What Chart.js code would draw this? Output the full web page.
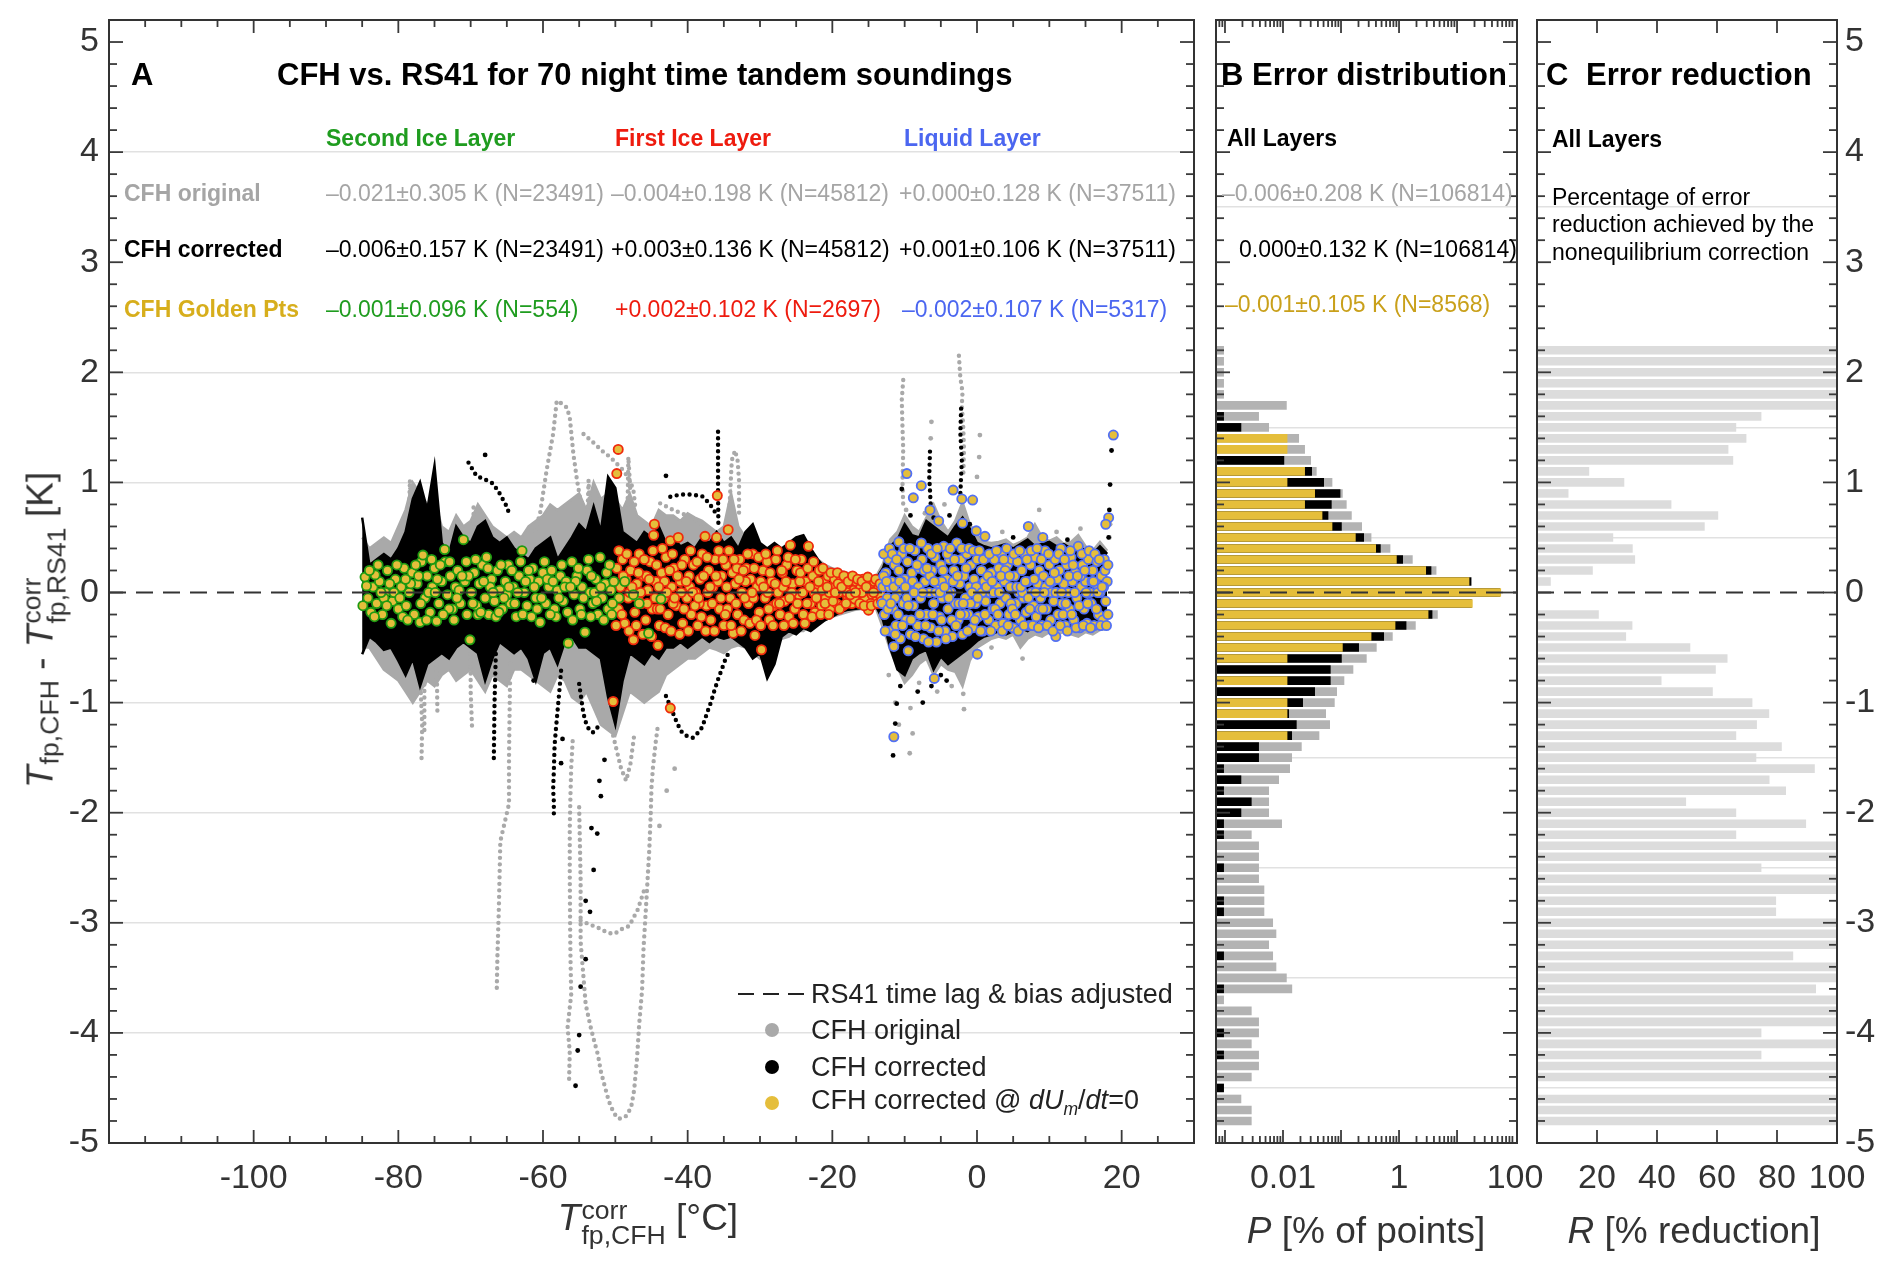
<!DOCTYPE html>
<html><head><meta charset="utf-8">
<script src="https://cdn.jsdelivr.net/npm/chart.js@4.4.1/dist/chart.umd.min.js"></script>
<style>
html,body{margin:0;padding:0;background:#fff;}
#wrap{position:relative;width:1892px;height:1270px;overflow:hidden;font-family:"Liberation Sans",Arial,Helvetica,sans-serif;}
canvas{position:absolute;left:0;top:0;}
.t{position:absolute;white-space:nowrap;line-height:1;transform:translateY(-50%);}
.b{font-weight:bold;}
.ax{position:absolute;white-space:nowrap;color:#333;font-size:37px;line-height:1;transform:translate(-50%,-50%);}
.ss{display:inline-flex;flex-direction:column;font-size:0.72em;line-height:0.92;vertical-align:0.45em;margin-left:1px;}
.sb{font-size:0.72em;vertical-align:-0.22em;margin-left:1px;}
</style></head><body><div id="wrap">
<canvas id="cA" width="1892" height="1270"></canvas>
<canvas id="cB" width="1892" height="1270"></canvas>
<canvas id="cC" width="1892" height="1270"></canvas>
</div>
<script>
// ================= DATA =================
// Panel A : envelope of the dense point clouds (1 degC steps)
const bandX = [-85,-84,-83,-82,-81,-80,-79,-78,-77,-76,
-75,-74,-73,-72,-71,-70,-69,-68,-67,-66,
-65,-64,-63,-62,-61,-60,-59,-58,-57,-56,
-55,-54,-53,-52,-51,-50,-49,-48,-47,-46,
-45,-44,-43,-42,-41,-40,-39,-38,-37,-36,
-35,-34,-33,-32,-31,-30,-29,-28,-27,-26,
-25,-24,-23,-22,-21,-20,-19,-18,-17,-16,
-15,-14,-13,-12,-11,-10,-9,-8,-7,-6,
-5,-4,-3,-2,-1,0,1,2,3,4,
5,6,7,8,9,10,11,12,13,14,
15,16,17,18];
const corrHi = [0.68,0.25,0.3,0.35,0.3,0.4,0.55,0.85,1.0,0.75,
1.15,0.45,0.35,0.6,0.5,0.45,0.6,0.65,0.5,0.45,
0.5,0.4,0.35,0.3,0.4,0.45,0.5,0.3,0.4,0.5,
0.62,0.55,0.78,0.55,1.05,0.95,0.55,0.5,0.45,0.55,
0.5,0.6,0.45,0.5,0.42,0.45,0.4,0.5,0.45,0.55,
0.45,0.5,0.4,0.55,0.62,0.45,0.4,0.45,0.4,0.45,
0.5,0.52,0.4,0.3,0.22,0.2,0.18,0.16,0.15,0.14,
0.12,0.12,0.22,0.42,0.48,0.62,0.52,0.5,0.65,0.6,
0.55,0.5,0.6,0.68,0.58,0.45,0.42,0.4,0.42,0.44,
0.4,0.44,0.48,0.42,0.44,0.46,0.42,0.44,0.4,0.42,
0.38,0.35,0.42,0.35];
const corrLo = [-0.56,-0.4,-0.45,-0.52,-0.5,-0.62,-0.75,-0.6,-0.85,-0.65,
-0.6,-0.55,-0.6,-0.5,-0.45,-0.5,-0.55,-0.8,-0.6,-0.45,
-0.5,-0.55,-0.5,-0.6,-0.8,-0.55,-0.5,-0.65,-0.45,-0.4,
-0.5,-0.5,-0.55,-0.6,-0.95,-1.2,-0.8,-0.55,-0.6,-0.65,
-0.55,-0.6,-0.5,-0.5,-0.45,-0.5,-0.45,-0.4,-0.45,-0.4,
-0.42,-0.4,-0.45,-0.5,-0.6,-0.55,-0.78,-0.65,-0.4,-0.35,
-0.38,-0.32,-0.35,-0.3,-0.25,-0.22,-0.18,-0.16,-0.15,-0.14,
-0.13,-0.12,-0.25,-0.5,-0.7,-0.75,-0.6,-0.55,-0.52,-0.7,
-0.58,-0.65,-0.6,-0.55,-0.5,-0.44,-0.4,-0.38,-0.35,-0.38,
-0.35,-0.32,-0.35,-0.3,-0.32,-0.3,-0.33,-0.3,-0.32,-0.35,
-0.3,-0.32,-0.3,-0.3];
const origHi = [0.5,0.4,0.45,0.5,0.45,0.6,0.75,1.0,0.9,0.8,
0.85,0.6,0.55,0.7,0.6,0.65,0.8,0.7,0.6,0.55,
0.5,0.55,0.5,0.6,0.65,0.7,0.8,0.75,0.8,0.85,
0.9,0.75,1.0,0.85,0.9,0.85,0.75,0.9,0.7,0.65,
0.6,0.75,0.7,0.7,0.65,0.72,0.68,0.65,0.6,0.55,
0.6,0.9,0.6,0.5,0.5,0.42,0.4,0.42,0.38,0.42,
0.45,0.4,0.35,0.3,0.25,0.22,0.2,0.18,0.16,0.15,
0.14,0.14,0.26,0.48,0.55,0.7,0.6,0.55,0.68,0.8,
0.65,0.55,0.65,0.82,0.62,0.52,0.46,0.45,0.46,0.48,
0.43,0.46,0.5,0.62,0.5,0.47,0.5,0.44,0.46,0.52,
0.42,0.38,0.46,0.38];
const origLo = [-0.5,-0.5,-0.6,-0.7,-0.75,-0.8,-0.9,-1.0,-0.9,-0.8,
-0.85,-0.75,-0.7,-0.8,-0.75,-0.7,-0.8,-0.9,-0.75,-0.8,
-0.85,-0.7,-0.7,-0.75,-0.8,-0.85,-0.9,-0.75,-0.8,-0.95,
-1.0,-0.9,-1.05,-1.2,-1.25,-1.3,-1.1,-0.9,-0.95,-1.0,
-0.95,-0.9,-0.75,-0.7,-0.65,-0.6,-0.6,-0.55,-0.5,-0.52,
-0.55,-0.5,-0.48,-0.5,-0.55,-0.6,-0.55,-0.5,-0.42,-0.4,
-0.35,-0.35,-0.3,-0.28,-0.25,-0.22,-0.2,-0.18,-0.16,-0.15,
-0.14,-0.14,-0.32,-0.52,-0.68,-0.82,-0.75,-0.65,-0.6,-0.75,
-0.65,-0.7,-0.72,-0.85,-0.62,-0.5,-0.46,-0.42,-0.4,-0.42,
-0.38,-0.5,-0.42,-0.38,-0.4,-0.36,-0.38,-0.36,-0.38,-0.4,
-0.36,-0.38,-0.34,-0.33];

// Panel A : single soundings that leave the cloud (dotted traces)
const grayTraces = [
 [[-61.1,0.56],[-60.4,0.72],[-59.5,1.11],[-58.6,1.44],[-58.1,1.74],[-57.5,1.72],[-56.7,1.68],[-56.3,1.59],[-55.8,1.26],[-55.3,1.02],[-54.9,0.87]],
 [[-54.4,1.44],[-53.0,1.36],[-51.7,1.28],[-50.7,1.23],[-49.8,1.17],[-48.9,1.11],[-48.0,1.02],[-47.5,0.93],[-47.2,0.75]],
 [[-53.9,0.6],[-53.7,1.02],[-53.5,0.7]],
 [[-48.3,0.8],[-48.2,1.23],[-47.9,0.9]],
 [[-34.2,0.8],[-33.9,1.2],[-33.45,1.29],[-33.1,1.2],[-32.9,1.02],[-32.9,0.72]],
 [[-78.6,0.5],[-78.4,1.02],[-78.2,0.6]],
 [[-69.6,0.3],[-69.6,0.8]],
 [[-43.8,0.81],[-42.0,0.75],[-39.7,0.69],[-37.4,0.59],[-36.0,0.5]],
 [[-76.8,-0.5],[-76.9,-0.9],[-76.7,-1.2],[-76.8,-1.53]],
 [[-76.4,-0.6],[-76.4,-1.3]],
 [[-74.7,-0.6],[-74.6,-1.08]],
 [[-70.0,-0.5],[-70.0,-0.9],[-69.8,-1.24]],
 [[-64.5,-0.53],[-64.6,-1.0],[-64.7,-1.5],[-64.7,-1.92],[-65.9,-2.26],[-66.1,-2.86],[-66.3,-3.3],[-66.4,-3.64]],
 [[-55.9,-1.35],[-56.1,-1.59],[-56.2,-1.83],[-56.3,-2.14],[-56.3,-2.56],[-56.25,-3.02],[-56.2,-3.32],[-56.1,-3.65],[-56.6,-3.95],[-56.3,-4.17],[-56.4,-4.45]],
 [[-55.0,-1.95],[-54.8,-2.6],[-54.8,-3.17],[-54.1,-3.74],[-53.4,-3.95],[-52.9,-4.08],[-52.4,-4.2],[-52.0,-4.35],[-51.4,-4.5],[-50.9,-4.62],[-50.2,-4.73],[-49.5,-4.78],[-48.9,-4.77],[-48.4,-4.75],[-47.8,-4.67],[-47.4,-4.52],[-47.0,-4.23],[-46.7,-3.92],[-46.3,-3.61],[-46.1,-3.23],[-45.7,-2.79],[-45.3,-2.33],[-45.1,-2.0],[-45.0,-1.77],[-44.8,-1.59],[-44.4,-1.35],[-44.1,-1.2]],
 [[-54.8,-2.98],[-54.1,-3.0],[-52.2,-3.05],[-51.1,-3.09],[-50.1,-3.1],[-49.2,-3.06],[-48.1,-3.03],[-46.9,-2.88],[-46.0,-2.7]],
 [[-50.3,-1.3],[-49.2,-1.6],[-48.5,-1.71],[-47.9,-1.55],[-47.4,-1.3]],
 [[-10.2,1.93],[-10.4,1.75],[-10.3,1.5],[-10.2,1.3],[-10.3,1.0],[-10.2,0.8]],
 [[-2.5,2.15],[-2.3,1.95],[-2.0,1.82],[-2.1,1.7],[-1.9,1.5],[-1.8,1.3],[-1.9,1.05]]
];
const blackTraces = [
 [[-57.5,-0.71],[-57.8,-0.94],[-58.2,-1.23],[-58.4,-1.39],[-58.5,-1.62],[-58.6,-1.79],[-58.5,-1.9],[-58.5,-2.02]],
 [[-43.0,-0.94],[-41.5,-1.18],[-40.9,-1.26],[-40.2,-1.3],[-39.3,-1.32],[-38.2,-1.25],[-37.7,-1.17],[-37.3,-1.09],[-36.8,-1.0],[-36.3,-0.89],[-35.8,-0.79],[-35.3,-0.7],[-34.8,-0.61],[-34.2,-0.53]],
 [[-55.0,-0.83],[-54.5,-1.06],[-54.2,-1.16],[-53.6,-1.25],[-53.1,-1.27],[-52.5,-1.23],[-52.2,-1.18]],
 [[-66.5,-0.5],[-66.7,-1.0],[-66.8,-1.52]],
 [[-42.4,0.87],[-41.0,0.89],[-39.5,0.89],[-38.0,0.875],[-37.0,0.81],[-36.1,0.72]],
 [[-70.3,1.18],[-69.2,1.06],[-67.8,1.02],[-66.9,0.99],[-66.0,0.9],[-65.0,0.78],[-64.6,0.7]],
 [[-35.8,1.46],[-35.8,1.2],[-35.8,0.9],[-35.75,0.6]],
 [[-2.2,1.67],[-2.3,1.45],[-2.1,1.2],[-2.3,0.9]],
 [[-6.5,1.28],[-6.6,1.05],[-6.4,0.8]]
];
const grayPts = [[-6.3,1.55],[-6.4,1.4],[0.4,1.43],[0.3,1.23],[0.0,1.05],[8.6,0.75],[14.3,0.58],[-9.3,-1.46],[-8.9,-1.28],
 [-9.2,-1.05],[-1.8,-1.06],[-1.9,-0.92],[6.3,-0.6],[-11.3,-1.0],[-10.8,-1.2],[18.4,0.62],[18.3,0.5],[-41.8,-1.6],[-42.9,-1.8],[-43.9,-2.12],
 [-9.8,0.75],[-7.2,0.72],[-4.5,0.8],[-3.5,-0.85],[-5.5,-0.9],[-8.0,-0.82],[3.5,0.55],[11.0,0.55],[-12.2,-0.75],[2.0,-0.5]];
const blackPts = [[-10.4,0.94],[-11.1,-1.01],[-11.3,-1.19],[-11.6,-1.48],[18.6,1.29],[18.4,0.98],[18.3,0.75],[18.2,0.5],[-8.2,-0.9],[-7.5,-1.0],
 [-43.0,1.06],[-68.0,1.25],[-52.2,-1.71],[-52.0,-1.85],[-53.3,-2.14],[-52.5,-2.19],[-53.0,-2.52],[-54.1,-2.8],[-53.5,-2.9],[-54.1,-3.33],
 [-54.8,-3.58],[-55.0,-4.02],[-55.2,-4.16],[-55.5,-4.48],[-51.5,-1.52],[-57.3,-1.33],[-57.5,-1.55],[-61.25,-0.62],[-61.3,-0.8],
 [-9.2,0.7],[-6.0,0.68],[-3.8,0.7],[-1.0,0.62],[-5.0,-0.75],[-4.2,-0.8],[-6.3,-0.85],[-10.6,-0.85],[5.0,0.5],[12.5,0.48]];

// Panel A : "golden points" (dU/dt = 0), one list per layer
const greenPts = [[-84.6,0.14],[-84.2,-0.05],[-83.8,-0.18],[-83.5,0.05],[-83.0,-0.1],[-82.6,0.1],[-82.2,-0.2],[-81.8,0.0],[-81.5,0.2],[-81.0,-0.28],
 [-80.8,-0.08],[-80.4,0.12],[-80.0,-0.15],[-79.6,0.05],[-79.2,0.22],[-78.9,-0.12],[-78.5,0.0],[-78.1,0.18],[-77.8,-0.2],[-77.4,0.08],
 [-77.0,-0.27],[-76.8,0.28],[-76.6,0.34],[-76.3,-0.05],[-76.0,0.15],[-75.6,-0.18],[-75.3,0.05],[-75.0,0.22],[-74.7,-0.26],[-74.4,-0.1],
 [-74.0,0.1],[-73.6,0.39],[-73.5,0.28],[-73.2,-0.02],[-72.8,0.15],[-72.5,-0.15],[-72.1,0.05],[-71.8,0.2],[-71.4,-0.1],[-71.0,0.48],
 [-70.8,0.1],[-70.5,-0.2],[-70.1,-0.43],[-69.9,0.0],[-69.5,0.18],[-69.2,-0.12],[-68.8,0.08],[-68.4,0.25],[-68.0,-0.05],[-67.8,0.32],
 [-67.5,-0.2],[-67.1,0.12],[-66.7,-0.08],[-66.3,0.2],[-66.0,0.02],[-65.6,-0.15],[-65.2,0.1],[-64.8,0.25],[-64.5,-0.1],[-64.1,0.05],
 [-63.7,-0.22],[-63.3,0.15],[-62.9,0.38],[-62.6,0.0],[-62.2,-0.12],[-61.8,0.12],[-61.4,0.22],[-61.0,-0.05],[-60.6,0.1],[-60.4,-0.27],
 [-60.0,0.18],[-59.6,-0.1],[-59.2,0.05],[-58.8,0.2],[-58.4,-0.15],[-58.0,0.02],[-57.6,0.15],[-57.2,-0.08],[-56.8,0.1],[-56.5,-0.46],
 [-56.0,0.28],[-55.7,-0.02],[-55.3,0.15],[-54.9,-0.15],[-54.6,0.05],[-54.2,-0.36],[-53.9,0.2],[-53.5,0.0],[-53.1,-0.1],[-52.7,0.12],
 [-52.1,0.32],[-51.8,-0.05],[-51.4,0.08],[-51.0,-0.15],[-50.6,0.02],[-50.2,0.1],[-49.5,-0.05],[-48.7,0.1],[-47.5,-0.02],[-46.7,-0.1],
 [-45.4,-0.37],[-43.7,-0.06],[-84.4,0.06],[-83.2,0.16],[-82.0,-0.05],[-80.6,0.0],[-79.4,-0.22],[-78.3,0.08],[-77.2,0.15],[-75.8,0.0],
 [-74.6,0.12],[-73.0,-0.15],[-71.6,0.02],[-70.3,0.15],[-69.0,-0.2],[-67.3,0.05],[-66.5,-0.22],[-65.0,-0.02],[-63.5,0.0],[-62.0,0.2],
 [-60.8,-0.15],[-59.4,0.12],[-58.2,-0.22],[-57.0,0.05],[-55.5,0.1],[-54.4,-0.05],[-53.3,0.15],[-52.4,-0.2],[-51.2,0.18],[-50.4,-0.1],
 [-84.9,-0.12],[-84.0,0.2],[-83.3,-0.22],[-82.8,0.25],[-82.4,0.0],[-81.6,-0.12],[-81.2,0.08],[-80.2,0.25],[-79.8,-0.05],[-79.0,0.12],
 [-78.7,-0.25],[-77.6,0.25],[-76.9,-0.1],[-76.1,-0.25],[-75.4,0.3],[-74.9,0.0],[-74.2,0.25],[-73.8,-0.2],[-72.9,0.28],[-72.3,-0.25],
 [-71.9,-0.05],[-71.2,0.15],[-70.6,0.28],[-69.7,-0.1],[-69.3,0.3],[-68.6,-0.18],[-68.2,0.1],[-67.6,0.22],[-66.9,0.0],[-66.1,-0.18],
 [-65.8,0.25],[-65.4,-0.05],[-64.7,0.05],[-64.3,0.2],[-63.9,-0.1],[-63.1,0.28],[-62.8,-0.2],[-62.4,0.1],[-61.6,-0.22],[-61.2,0.05],
 [-60.2,-0.05],[-59.8,0.28],[-59.0,-0.2],[-58.6,0.1],[-57.8,-0.05],[-57.4,0.25],[-56.6,-0.18],[-56.2,0.05],[-55.9,-0.25],[-55.1,0.22],
 [-54.7,-0.2],[-53.7,0.3],[-53.4,-0.22],[-52.9,0.0],[-52.6,-0.08],[-52.0,0.05],[-51.6,-0.25],[-50.8,0.25],[-50.5,-0.2]];
const redPts = [[-49.8,0.22],[-49.6,-0.15],[-49.3,0.05],[-49.0,0.3],[-48.7,-0.28],[-48.5,0.12],[-48.2,-0.05],[-47.9,0.2],[-47.5,-0.43],[-47.3,-0.18],
 [-47.0,0.08],[-46.7,0.35],[-46.4,-0.1],[-46.1,0.15],[-45.8,-0.25],[-45.5,0.02],[-45.2,0.28],[-44.9,-0.15],[-44.7,0.52],[-44.6,0.62],
 [-44.4,0.1],[-44.1,-0.48],[-43.9,-0.3],[-43.6,0.18],[-43.3,-0.05],[-43.0,0.32],[-42.7,-0.2],[-42.4,0.47],[-42.2,0.05],[-41.9,0.22],
 [-41.6,-0.12],[-41.3,0.5],[-41.0,0.1],[-40.7,-0.28],[-40.4,0.3],[-40.1,-0.05],[-39.8,0.15],[-39.5,-0.2],[-39.2,0.25],[-38.9,0.0],
 [-38.6,-0.3],[-38.3,0.12],[-38.0,0.35],[-37.6,0.51],[-37.4,-0.12],[-37.1,0.2],[-36.8,-0.25],[-36.5,0.05],[-36.2,0.3],[-36.0,0.5],
 [-35.9,0.88],[-35.6,-0.15],[-35.3,0.15],[-35.0,-0.3],[-34.7,0.25],[-34.4,0.57],[-34.1,-0.05],[-33.8,0.18],[-33.7,-0.37],[-33.4,0.08],
 [-33.1,-0.2],[-32.8,0.3],[-32.5,0.0],[-32.2,-0.25],[-31.9,0.22],[-31.6,-0.1],[-31.3,0.12],[-31.0,0.35],[-30.7,-0.39],[-30.4,0.05],
 [-30.1,-0.18],[-29.8,-0.52],[-29.6,0.2],[-29.3,-0.05],[-29.0,0.28],[-28.7,-0.25],[-28.4,0.1],[-28.1,-0.12],[-27.8,0.3],[-27.5,0.0],
 [-27.2,-0.2],[-26.9,0.18],[-26.6,-0.08],[-26.3,0.25],[-26.0,-0.22],[-25.8,0.43],[-25.5,0.08],[-25.2,-0.15],[-24.9,0.2],[-24.6,-0.02],
 [-24.3,0.3],[-24.0,-0.2],[-23.7,0.1],[-23.3,0.42],[-23.0,-0.1],[-22.7,0.15],[-22.4,-0.18],[-22.1,0.05],[-21.8,0.2],[-21.5,-0.12],
 [-21.2,0.1],[-20.9,-0.05],[-20.6,0.15],[-20.3,-0.15],[-20.0,0.05],[-19.7,0.12],[-19.4,-0.1],[-19.1,0.0],[-18.8,0.14],[-18.5,-0.12],
 [-18.2,0.06],[-17.9,-0.04],[-17.6,0.12],[-17.3,-0.1],[-17.0,0.02],[-16.7,0.1],[-16.4,-0.08],[-16.1,0.04],[-15.8,0.12],[-15.5,-0.06],
 [-15.0,-0.16],[-14.8,0.08],[-14.5,-0.02],[-14.2,0.1],[-13.9,-0.08],[-13.6,0.04],[-13.3,-0.03],
 [-49.4,-0.05],[-48.0,0.0],[-46.9,-0.05],[-45.7,0.15],[-44.2,-0.15],[-43.2,0.1],[-42.0,-0.1],[-40.9,0.0],[-39.7,0.05],[-38.4,-0.1],
 [-37.2,0.0],[-35.8,0.1],[-34.5,-0.15],[-33.2,0.22],[-32.0,0.1],[-30.9,-0.05],[-29.9,0.1],[-28.9,0.0],[-27.7,-0.1],[-26.8,0.05],
 [-25.6,0.0],[-24.5,0.1],[-23.5,-0.1],[-22.5,0.0],[-21.4,0.02],[-20.4,0.0],[-19.2,0.08],[-18.0,0.0],[-16.9,-0.06],[-15.9,0.0],
 [-14.7,-0.1],[-49.6,1.3],[-49.8,1.08],[-50.3,-0.99],[-42.4,-1.05],
 [-49.9,-0.3],[-49.5,0.38],[-49.1,-0.2],[-48.9,0.15],[-48.4,0.35],[-48.1,-0.35],[-47.7,0.05],[-47.4,0.28],[-47.1,-0.3],[-46.8,0.18],
 [-46.5,0.0],[-46.2,-0.38],[-46.0,0.3],[-45.6,-0.1],[-45.3,0.12],[-45.0,-0.4],[-44.8,0.38],[-44.5,-0.05],[-44.3,0.25],[-44.0,0.05],
 [-43.8,-0.15],[-43.5,0.4],[-43.1,-0.32],[-42.9,0.0],[-42.5,0.2],[-42.3,-0.35],[-42.1,0.35],[-41.8,-0.05],[-41.4,0.15],[-41.1,-0.38],
 [-40.8,0.25],[-40.5,-0.15],[-40.2,0.1],[-39.9,-0.35],[-39.6,0.38],[-39.3,0.0],[-39.0,-0.12],[-38.7,0.28],[-38.5,-0.05],[-38.1,-0.22],
 [-37.8,0.15],[-37.5,-0.35],[-37.3,0.32],[-36.9,0.05],[-36.6,-0.1],[-36.3,-0.35],[-36.1,0.15],[-35.7,0.38],[-35.4,-0.05],[-35.1,0.3],
 [-34.8,-0.2],[-34.6,0.05],[-34.3,0.38],[-34.0,-0.3],[-33.6,0.3],[-33.3,-0.1],[-32.9,0.12],[-32.6,-0.35],[-32.3,0.2],[-32.1,-0.05],
 [-31.7,0.35],[-31.4,-0.28],[-31.1,0.0],[-30.8,0.22],[-30.5,-0.25],[-30.2,0.32],[-29.9,-0.3],[-29.5,0.05],[-29.2,0.35],[-28.8,-0.15],
 [-28.6,0.18],[-28.2,-0.3],[-27.9,0.08],[-27.6,0.38],[-27.3,-0.1],[-27.0,0.2],[-26.7,-0.3],[-26.4,0.1],[-26.1,0.32],[-25.9,-0.05],
 [-25.4,-0.28],[-25.1,0.3],[-24.8,-0.1],[-24.4,0.18],[-24.1,0.0],[-23.8,-0.28],[-23.4,0.22],[-23.1,0.05],[-22.8,-0.22],[-22.6,0.28],
 [-22.2,-0.05],[-21.9,0.1],[-21.6,-0.2],[-21.3,0.22],[-21.0,-0.1],[-20.7,0.05],[-20.5,-0.2],[-20.2,0.18],[-19.9,-0.08],[-19.6,0.0],
 [-19.3,0.18],[-19.0,-0.15],[-18.7,0.05],[-18.4,0.15],[-18.1,-0.1],[-17.8,0.1],[-17.5,-0.02],[-17.2,0.15],[-16.8,0.0],[-16.5,0.12],
 [-16.2,-0.1],[-15.9,0.1],[-15.6,-0.12],[-15.3,0.05],[-15.1,0.14],[-14.6,-0.12],[-14.3,0.0],[-14.0,0.12],[-13.7,-0.1],[-13.4,0.08],[-13.2,-0.08]];
const bluePts = [[-13.0,0.05],[-12.8,-0.2],[-12.6,0.18],[-12.4,-0.05],[-12.2,0.3],[-12.0,-0.35],[-11.8,0.1],[-11.6,-0.15],[-11.4,0.25],[-11.2,-0.3],
 [-11.0,0.0],[-10.8,0.2],[-10.6,-0.42],[-10.4,0.35],[-10.2,-0.1],[-10.0,0.12],[-9.8,-0.25],[-9.6,0.28],[-9.4,0.0],[-9.2,-0.38],
 [-9.0,0.18],[-8.8,-0.12],[-8.6,0.38],[-8.4,0.05],[-8.2,-0.3],[-8.0,0.22],[-7.8,-0.05],[-7.6,0.3],[-7.4,-0.42],[-7.2,0.1],
 [-7.0,-0.2],[-6.8,0.4],[-6.6,0.0],[-6.4,-0.32],[-6.2,0.2],[-6.0,-0.1],[-5.8,0.32],[-5.6,-0.45],[-5.4,0.08],[-5.2,-0.22],
 [-5.0,0.25],[-4.8,-0.05],[-4.6,0.42],[-4.4,-0.35],[-4.2,0.12],[-4.0,-0.15],[-3.8,0.3],[-3.6,0.0],[-3.4,-0.4],[-3.2,0.2],
 [-3.0,-0.1],[-2.8,0.45],[-2.6,-0.25],[-2.4,0.08],[-2.2,0.3],[-2.0,-0.38],[-1.8,0.15],[-1.6,-0.05],[-1.4,0.35],[-1.2,-0.2],
 [-1.0,0.05],[-0.8,0.25],[-0.6,-0.32],[-0.4,0.12],[-0.2,-0.1],[0.0,0.3],[0.2,-0.22],[0.4,0.05],[0.6,0.2],[0.8,-0.35],
 [1.0,0.1],[1.2,-0.08],[1.4,0.32],[1.6,-0.25],[1.8,0.0],[2.0,0.18],[2.2,-0.15],[2.4,0.3],[2.6,-0.3],[2.8,0.05],
 [3.0,0.22],[3.2,-0.1],[3.4,0.35],[3.6,-0.28],[3.8,0.1],[4.0,-0.05],[4.2,0.25],[4.4,-0.2],[4.6,0.05],[4.8,0.3],
 [5.0,-0.32],[5.2,0.15],[5.4,-0.1],[5.6,0.28],[5.8,0.0],[6.0,-0.25],[6.2,0.2],[6.4,-0.05],[6.6,0.35],[6.8,-0.18],
 [7.0,0.1],[7.2,-0.3],[7.4,0.25],[7.6,0.0],[7.8,-0.12],[8.0,0.32],[8.2,-0.22],[8.4,0.08],[8.6,0.2],[8.8,-0.05],
 [9.0,-0.3],[9.2,0.15],[9.4,0.38],[9.6,-0.15],[9.8,0.02],[10.0,0.25],[10.2,-0.25],[10.4,0.1],[10.6,-0.08],[10.8,0.3],
 [11.0,0.0],[11.2,-0.2],[11.4,0.2],[11.6,0.4],[11.8,-0.1],[12.0,0.08],[12.2,-0.3],[12.4,0.25],[12.6,0.0],[12.8,-0.15],
 [13.0,0.32],[13.2,0.1],[13.4,-0.25],[13.6,0.18],[13.8,-0.05],[14.0,0.42],[14.2,-0.32],[14.4,0.05],[14.6,0.25],[14.8,-0.15],
 [15.0,0.1],[15.2,-0.28],[15.4,0.3],[15.6,0.0],[15.8,-0.1],[16.0,0.2],[16.2,-0.3],[16.4,0.08],[16.6,0.28],[16.8,-0.2],
 [17.0,0.0],[17.2,0.15],[17.4,-0.25],[17.6,0.3],[17.8,-0.08],[18.0,0.1],[18.1,-0.2],
 [-12.9,0.15],[-12.1,0.05],[-11.3,-0.05],[-10.5,0.1],[-9.7,-0.05],[-8.9,0.1],[-8.1,0.05],[-7.3,0.2],[-6.5,0.15],[-5.7,0.0],
 [-4.9,0.1],[-4.1,0.0],[-3.3,0.1],[-2.5,-0.1],[-1.7,-0.2],[-0.9,-0.1],[-0.1,0.05],[0.7,0.0],[1.5,0.15],[2.3,0.0],
 [3.1,0.0],[3.9,0.2],[4.7,-0.1],[5.5,0.05],[6.3,0.0],[7.1,-0.05],[7.9,0.12],[8.7,-0.15],[9.5,0.05],[10.3,0.0],
 [11.1,0.12],[11.9,-0.2],[12.7,0.15],[13.5,0.0],[14.3,0.15],[15.1,0.0],[15.9,0.1],[16.7,0.0],[17.5,0.05],
 [-9.7,1.08],[-7.7,0.97],[-8.8,0.86],[-3.3,0.93],[-2.1,0.85],[-0.6,0.84],[-6.5,0.75],[-5.3,0.65],[-2.0,0.63],[-0.1,0.56],
 [1.1,0.51],[7.1,0.6],[9.1,0.5],[18.85,1.43],[18.2,0.68],[17.8,0.62],[-10.8,0.46],[-11.5,-0.49],[-9.5,-0.53],[-5.9,-0.78],
 [0.05,-0.56],[10.9,-0.4],[-11.5,-1.31],
 [-13.1,-0.1],[-12.9,0.35],[-12.7,-0.35],[-12.5,0.1],[-12.3,-0.15],[-12.1,0.4],[-11.9,-0.1],[-11.7,0.35],[-11.5,0.05],[-11.3,-0.38],
 [-11.1,0.3],[-10.9,-0.2],[-10.7,0.1],[-10.3,-0.3],[-10.1,0.4],[-9.9,0.05],[-9.5,-0.12],[-9.3,0.4],[-9.1,-0.25],[-8.7,0.0],
 [-8.5,-0.4],[-8.3,0.25],[-7.9,-0.2],[-7.7,0.45],[-7.5,0.0],[-7.1,-0.3],[-6.9,0.22],[-6.7,-0.45],[-6.3,0.35],[-6.1,-0.2],
 [-5.9,0.1],[-5.5,0.4],[-5.3,-0.35],[-5.1,0.0],[-4.9,-0.25],[-4.7,0.2],[-4.5,0.05],[-4.3,-0.42],[-4.1,0.35],[-3.9,-0.05],
 [-3.7,0.4],[-3.5,-0.25],[-3.1,0.3],[-2.9,-0.3],[-2.7,0.15],[-2.3,-0.2],[-2.1,0.4],[-1.9,-0.1],[-1.5,0.22],[-1.3,-0.35],
 [-1.1,0.4],[-0.7,0.0],[-0.5,0.38],[-0.3,-0.25],[0.1,-0.05],[0.3,0.38],[0.5,-0.35],[0.9,0.3],[1.1,-0.2],[1.3,0.05],
 [1.7,0.35],[1.9,-0.35],[2.1,0.1],[2.5,-0.15],[2.7,0.38],[2.9,-0.2],[3.3,0.15],[3.5,-0.35],[3.7,0.3],[4.1,0.4],
 [4.3,-0.3],[4.5,0.15],[4.9,-0.15],[5.1,0.35],[5.3,-0.2],[5.7,-0.35],[5.9,0.38],[6.1,0.05],[6.5,-0.3],[6.7,0.1],
 [6.9,0.3],[7.3,-0.15],[7.5,0.38],[7.7,-0.3],[8.1,0.0],[8.3,0.4],[8.5,-0.32],[8.9,0.3],[9.1,-0.15],[9.3,0.0],
 [9.7,-0.3],[9.9,0.35],[10.1,0.1],[10.5,-0.35],[10.7,0.18],[10.9,0.0],[11.3,0.35],[11.5,-0.3],[11.7,0.0],[12.1,0.3],
 [12.3,-0.1],[12.5,-0.35],[12.9,0.38],[13.1,-0.2],[13.3,0.25],[13.7,-0.32],[13.9,0.15],[14.1,-0.12],[14.5,0.35],[14.7,-0.3],
 [14.9,0.2],[15.3,-0.1],[15.5,0.38],[15.7,-0.32],[16.1,0.1],[16.3,0.35],[16.5,-0.15],[16.9,0.3],[17.1,-0.3],[17.3,0.05],
 [17.7,0.2],[17.9,-0.3],[18.1,0.25]];

// Panels B and C : 0.1 K bins
const bins = [2.2,2.1,2.0,1.9,1.8,1.7,1.6,1.5,1.4,1.3,1.2,1.1,1.0,0.9,0.8,0.7,0.6,0.5,0.4,0.3,0.2,0.1,0.0,
 -0.1,-0.2,-0.3,-0.4,-0.5,-0.6,-0.7,-0.8,-0.9,-1.0,-1.1,-1.2,-1.3,-1.4,-1.5,-1.6,-1.7,-1.8,-1.9,-2.0,
 -2.1,-2.2,-2.3,-2.4,-2.5,-2.6,-2.7,-2.8,-2.9,-3.0,-3.1,-3.2,-3.3,-3.4,-3.5,-3.6,-3.7,-3.8,-3.9,-4.0,
 -4.1,-4.2,-4.3,-4.4,-4.5,-4.6,-4.7,-4.8];
const pOrig = [0.00096,0.00096,0.00096,0.00096,0.00096,0.0116,0.00385,0.00574,0.0189,0.0239,0.0304,0.038,0.0709,0.107,0.125,0.153,0.23,0.334,0.709,1.72,4.41,15,50,
 17,4.65,1.94,0.778,0.412,0.277,0.163,0.114,0.0853,0.0778,0.0551,0.0646,0.0423,0.021,0.0143,0.0132,0.00853,0.00574,0.00574,0.00574,
 0.0096,0.00288,0.00385,0.00385,0.00385,0.00385,0.00476,0.00476,0.00476,0.00673,0.00767,0.00574,0.00673,0.00767,0.0116,0.0144,0.00096,0.00288,0.00385,0.00385,
 0.00288,0.00385,0.00385,0.00288,null,0.00191,0.00288,0.00288];
const pCorr = [null,null,null,null,null,null,0.00096,0.00191,null,null,0.0105,0.0316,0.0509,0.0975,0.069,0.0605,0.103,0.249,0.483,1.17,3.61,17.7,55,
 18,3.76,1.34,0.551,0.204,0.103,0.0663,0.0663,0.0356,0.0221,0.0127,0.0172,0.0143,0.00385,0.00385,0.00096,0.00191,0.00096,0.00288,0.00191,
 0.00096,0.00096,null,null,0.00096,null,null,0.00096,0.00096,null,null,null,0.00096,null,null,0.00096,null,null,null,0.00096,
 null,0.00096,null,null,0.00096,null,null,null];
const pGold = [null,null,null,null,null,null,null,null,0.0119,0.0119,null,0.0239,0.0119,0.0356,0.0239,0.0477,0.0709,0.179,0.401,0.912,2.92,16.3,57.4,
 18.6,3.21,0.865,0.334,0.107,0.0119,null,0.0119,null,0.0119,0.0119,null,0.0119,null,null,null,null,null,null,null,
 null,null,null,null,null,null,null,null,null,null,null,null,null,null,null,null,null,null,null,null,
 null,null,null,null,null,null,null,null];
const rRed = [100,100,100,100,100,100,74.8,66.4,69.8,63.8,65.4,17.4,29.1,10.5,44.8,60.4,55.9,25.4,31.9,32.7,18.6,4.6,null,
 null,20.6,31.8,29.7,51.1,63.5,59.6,41.5,58.6,71.8,77.4,73.3,66.4,81.6,73.1,92.6,77.5,83.0,49.7,66.4,
 89.7,66.4,100,100,74.8,100,100,79.7,79.7,100,100,100,85.4,100,100,93,100,100,100,74.8,
 100,74.8,100,100,null,100,100,100];

// tick labels
const xLabA = [-100,-80,-60,-40,-20,0,20];
const yLab = [-5,-4,-3,-2,-1,0,1,2,3,4,5];
const xLabB = [0.01,1,100];
const xLabC = [20,40,60,80,100];
const gridVals = [4,2,1,-1,-2,-3,-4];

// ================= STYLE =================
const GRAY='#a9a9a9', GOLD='#e5be3b', GREEN='#1f9a12', RED='#ef2a0c', BLUE='#5270f4';
Chart.defaults.font.family = '"Liberation Sans", Arial, sans-serif';
Chart.defaults.color = '#333';
const P = a => a.map(([x,y]) => ({x, y}));
const band = ys => bandX.map((x,i) => ({x, y: ys[i]}));
const noPad = s => { s.paddingTop = 0; s.paddingBottom = 0; s.paddingLeft = 0; s.paddingRight = 0; };

const framePlugin = {
  id: 'frame',
  afterDatasetsDraw(chart, args, o) {
    const {ctx, chartArea: a} = chart;
    const xs = chart.scales.x, ys = chart.scales.y;
    const line = (x1,y1,x2,y2) => { ctx.beginPath(); ctx.moveTo(x1,y1); ctx.lineTo(x2,y2); ctx.stroke(); };
    ctx.save();
    const y0 = ys.getPixelForValue(0);
    ctx.strokeStyle = '#333'; ctx.lineWidth = 2.2; ctx.setLineDash([17,10]);
    line(a.left, y0, a.right, y0);
    ctx.setLineDash([]);
    ctx.strokeStyle = '#3a3a3a'; ctx.lineWidth = 1.8;
    const vt = (v, len) => { const p = xs.getPixelForValue(v); if (p < a.left+2 || p > a.right-2) return; line(p,a.bottom,p,a.bottom-len); line(p,a.top,p,a.top+len); };
    const ht = (v, len) => { const p = ys.getPixelForValue(v); if (p < a.top+2 || p > a.bottom-2) return; line(a.left,p,a.left+len,p); line(a.right,p,a.right-len,p); };
    for (let i = -25; i <= 26; i++) ht(i*0.2, i % 5 === 0 ? 14 : 8);
    if (o.mode === 'A') { for (let v = -120; v <= 30; v += 5) vt(v, v % 20 === 0 ? 13 : 7); }
    if (o.mode === 'B') { for (let d = -4; d <= 2; d++) for (let k = 1; k <= 9; k++) vt(k*Math.pow(10,d), k === 1 ? 13 : 7); }
    if (o.mode === 'C') { for (let v = 20; v < 100; v += 20) vt(v, 13); }
    ctx.lineWidth = 2; ctx.strokeStyle = '#333';
    ctx.strokeRect(a.left, a.top, a.right-a.left, a.bottom-a.top);
    if (o.mode === 'A') {
      ctx.setLineDash([16,9]); ctx.strokeStyle = '#222'; ctx.lineWidth = 2;
      line(738, 994, 806, 994); ctx.setLineDash([]);
      [[GRAY,1030],['#000',1067],[GOLD,1103]].forEach(([c,y]) => { ctx.fillStyle = c; ctx.beginPath(); ctx.arc(772, y, 7, 0, Math.PI*2); ctx.fill(); });
    }
    ctx.restore();
  }
};

const yScale = (w, extra) => Object.assign({
  type: 'linear', min: -5, max: 5.2, offset: false,
  afterFit: s => { s.width = w; noPad(s); },
  afterBuildTicks: s => { s.ticks = yLab.map(v => ({value: v})); },
  grid: { color: c => gridVals.includes(c.tick && c.tick.value) ? '#e1e1e1' : 'rgba(0,0,0,0)', lineWidth: 1.6, drawTicks: false },
  border: { display: false },
  ticks: { font: { size: 34 }, color: '#333', padding: 10 }
}, extra);
const xScale = (type, min, max, labs) => ({
  type, min, max, offset: false,
  afterFit: s => { s.height = 70; noPad(s); },
  afterBuildTicks: s => { s.ticks = labs.map(v => ({value: v})); },
  grid: { display: false, drawTicks: false }, border: { display: false },
  ticks: { font: { size: 34 }, color: '#333', padding: 15, maxRotation: 0, autoSkip: false, callback: v => String(v) }
});

// ================= PANEL A =================
const dotted = (pts, color, order) => ({ type: 'line', data: P(pts), borderColor: color, borderWidth: 4.4, borderDash: [0, 6.5], borderCapStyle: 'round', pointRadius: 0, fill: false, tension: 0, order });
const dots = (pts, color, order) => ({ type: 'scatter', data: P(pts), backgroundColor: color, borderWidth: 0, pointRadius: 2.4, order });
const gold = (pts, edge, order) => ({ type: 'scatter', data: P(pts), backgroundColor: GOLD, borderColor: edge, borderWidth: 1.8, pointRadius: 4.6, order });

const dsA = [
  { type: 'line', data: band(origHi), borderColor: GRAY, backgroundColor: GRAY, borderWidth: 2.5, pointRadius: 0, fill: '+1', tension: 0, order: 9 },
  { type: 'line', data: band(origLo), borderColor: GRAY, borderWidth: 2.5, pointRadius: 0, fill: false, tension: 0, order: 9 },
  { type: 'line', data: band(corrHi), borderColor: '#000', backgroundColor: '#000', borderWidth: 2.5, pointRadius: 0, fill: '+1', tension: 0, order: 6 },
  { type: 'line', data: band(corrLo), borderColor: '#000', borderWidth: 2.5, pointRadius: 0, fill: false, tension: 0, order: 6 },
  ...grayTraces.map(t => dotted(t, GRAY, 8)),
  dots(grayPts, GRAY, 8),
  ...blackTraces.map(t => dotted(t, '#000', 5)),
  dots(blackPts, '#000', 5),
  gold(redPts, RED, 3), gold(bluePts, BLUE, 2), gold(greenPts, GREEN, 1)
];
new Chart(document.getElementById('cA'), {
  type: 'scatter',
  data: { datasets: dsA },
  options: {
    responsive: false, animation: false, events: [],
    layout: { padding: { left: 0, right: 698, top: 20, bottom: 57 } },
    plugins: { legend: { display: false }, tooltip: { enabled: false }, frame: { mode: 'A' } },
    scales: { x: xScale('linear', -120, 30, xLabA), y: yScale(109, {}) }
  },
  plugins: [framePlugin]
});

// ================= PANEL B =================
const barDs = (vals, color, order) => ({
  data: bins.map((b,i) => vals[i] == null ? null : {x: vals[i], y: b}).filter(Boolean),
  backgroundColor: color, borderWidth: 0, grouped: false, barPercentage: 0.78, categoryPercentage: 1, order
});
new Chart(document.getElementById('cB'), {
  type: 'bar',
  data: { datasets: [barDs(pOrig, '#b3b3b3', 3), barDs(pCorr, '#000', 2), barDs(pGold, GOLD, 1)] },
  options: {
    indexAxis: 'y', responsive: false, animation: false, events: [],
    layout: { padding: { left: 1216, right: 375, top: 20, bottom: 57 } },
    plugins: { legend: { display: false }, tooltip: { enabled: false }, frame: { mode: 'B' } },
    scales: { x: xScale('logarithmic', 0.0007, 108, xLabB), y: yScale(0, { ticks: { display: false } }) }
  },
  plugins: [framePlugin]
});

// ================= PANEL C =================
new Chart(document.getElementById('cC'), {
  type: 'bar',
  data: { datasets: [barDs(rRed, '#dcdcdc', 1)] },
  options: {
    indexAxis: 'y', responsive: false, animation: false, events: [],
    layout: { padding: { left: 1537, right: 0, top: 20, bottom: 57 } },
    plugins: { legend: { display: false }, tooltip: { enabled: false }, frame: { mode: 'C' } },
    scales: { x: xScale('linear', 0, 100, xLabC), y: yScale(55, { position: 'right', ticks: { font: { size: 34 }, color: '#333', padding: 8 } }) }
  },
  plugins: [framePlugin]
});

// ================= TEXT =================
const notes = [
  ['A', 131, 74, 31, 'b', '#000'],
  ['CFH vs. RS41 for 70 night time tandem soundings', 277, 74, 31, 'b', '#000'],
  ['Second Ice Layer', 326, 138, 23, 'b', '#1f9c1f'],
  ['First Ice Layer', 615, 138, 23, 'b', '#ee1b0e'],
  ['Liquid Layer', 904, 138, 23, 'b', '#4b66f0'],
  ['CFH original', 124, 193, 23, 'b', '#a5a5a5'],
  ['–0.021±0.305 K (N=23491)', 326, 193, 23, '', '#a5a5a5'],
  ['–0.004±0.198 K (N=45812)', 611, 193, 23, '', '#a5a5a5'],
  ['+0.000±0.128 K (N=37511)', 899, 193, 23, '', '#a5a5a5'],
  ['CFH corrected', 124, 249, 23, 'b', '#000'],
  ['–0.006±0.157 K (N=23491)', 326, 249, 23, '', '#000'],
  ['+0.003±0.136 K (N=45812)', 611, 249, 23, '', '#000'],
  ['+0.001±0.106 K (N=37511)', 899, 249, 23, '', '#000'],
  ['CFH Golden Pts', 124, 309, 23, 'b', '#d7ae1c'],
  ['–0.001±0.096 K (N=554)', 326, 309, 23, '', '#1f9c1f'],
  ['+0.002±0.102 K (N=2697)', 615, 309, 23, '', '#ee1b0e'],
  ['–0.002±0.107 K (N=5317)', 902, 309, 23, '', '#4b66f0'],
  ['RS41 time lag &amp; bias adjusted', 811, 994, 27, '', '#222'],
  ['CFH original', 811, 1030, 27, '', '#222'],
  ['CFH corrected', 811, 1067, 27, '', '#222'],
  ['CFH corrected @ <i>dU</i><sub style="font-size:0.65em"><i>m</i></sub>/<i>dt</i>=0', 811, 1103, 27, '', '#222'],
  ['B Error distribution', 1221, 74, 31, 'b', '#000'],
  ['All Layers', 1227, 138, 23, 'b', '#000'],
  ['–0.006±0.208 K (N=106814)', 1222, 193, 23, '', '#a5a5a5'],
  ['0.000±0.132 K (N=106814)', 1239, 249, 23, '', '#000'],
  ['–0.001±0.105 K (N=8568)', 1225, 304, 23, '', '#c9a01a'],
  ['C', 1546, 74, 31, 'b', '#000'],
  ['Error reduction', 1586, 74, 31, 'b', '#000'],
  ['All Layers', 1552, 139, 23, 'b', '#000'],
  ['Percentage of error', 1552, 197, 23, '', '#000'],
  ['reduction achieved by the', 1552, 224, 23, '', '#000'],
  ['nonequilibrium correction', 1552, 252, 23, '', '#000']
];
const wrap = document.getElementById('wrap');
notes.forEach(([h, x, y, s, w, c]) => {
  const d = document.createElement('div');
  d.className = 't' + (w ? ' b' : '');
  d.style.left = x + 'px'; d.style.top = y + 'px'; d.style.fontSize = s + 'px'; d.style.color = c;
  d.innerHTML = h; wrap.appendChild(d);
});
const axes = [
  ['<i>T</i><span class="sb">fp,CFH</span> - <i>T</i><span class="ss"><span>corr</span><span>fp,RS41</span></span> [K]', 44, 630, true],
  ['<i>T</i><span class="ss"><span>corr</span><span>fp,CFH</span></span> [°C]', 648, 1222, false],
  ['<i>P</i> [% of points]', 1366, 1230, false],
  ['<i>R</i> [% reduction]', 1694, 1230, false]
];
axes.forEach(([h, x, y, rot]) => {
  const d = document.createElement('div');
  d.className = 'ax'; d.style.left = x + 'px'; d.style.top = y + 'px';
  if (rot) d.style.transform = 'translate(-50%,-50%) rotate(-90deg)';
  d.innerHTML = h; wrap.appendChild(d);
});
</script></body></html>
